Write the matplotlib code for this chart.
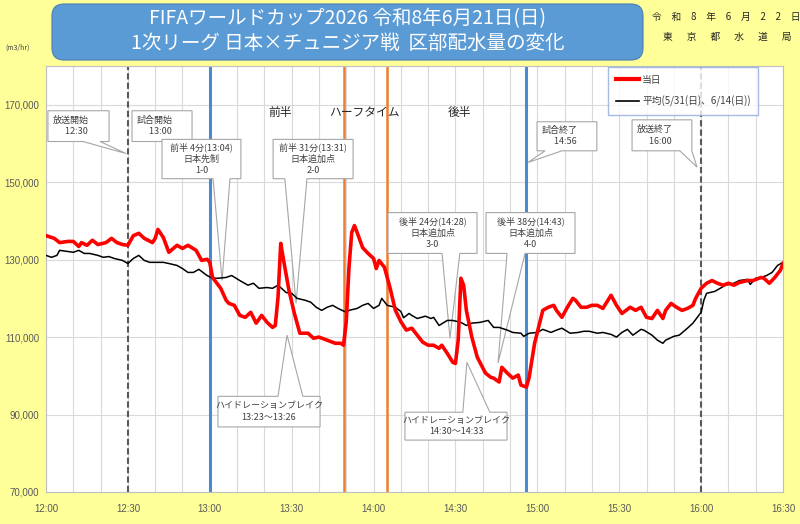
import matplotlib
matplotlib.use("Agg")
import matplotlib.pyplot as plt
from matplotlib.patches import FancyBboxPatch, Polygon
from matplotlib.lines import Line2D
import numpy as np

plt.rcParams['font.family'] = ['Noto Sans CJK JP', 'DejaVu Sans']

# ---------------- data ----------------
# minutes after 12:00
today_min = [0, 3, 5, 8, 10, 12, 13, 15, 17, 19, 22, 24, 26, 28, 30, 32, 34, 36, 39, 40,
             41, 43, 45, 47, 48, 50, 52, 55, 57, 59, 60, 61, 64, 66, 67, 69, 71, 73, 75, 77,
             79, 81, 83, 84, 85, 86, 87, 88, 89, 91, 93, 96, 98, 100, 103, 106, 108, 109, 110, 111,
             112, 113, 114, 116, 118, 120, 121, 122, 124, 126, 128, 130, 132, 134, 136, 138, 140, 142, 144, 145,
             147, 149, 150, 151, 152, 153, 154, 156, 158, 161, 163, 164, 166, 167, 169, 171, 173, 174, 176, 177,
             179, 182, 184, 186, 187, 189, 191, 193, 194, 196, 198, 200, 202, 204, 207, 209, 211, 214, 216, 218,
             220, 222, 224, 226, 227, 229, 231, 233, 235, 237, 238, 240, 242, 244, 246, 248, 250, 252, 254, 257,
             259, 262, 263, 265, 267, 269, 270]
today_val = [136200, 135500, 134400, 134700, 134700, 133400, 134400, 133700, 135000, 133900, 134400, 135500, 134400, 133900, 133700, 136200, 136800, 135500, 134400, 135500,
             137800, 135700, 131900, 133100, 133700, 132900, 133700, 132400, 129800, 130100, 129300, 125400, 122600, 119500, 118700, 118200, 115600, 115100, 116400, 113600,
             115600, 113800, 112500, 113000, 120300, 134200, 130000, 126000, 122100, 116100, 111000, 111000, 109700, 110000, 109200, 108400, 108400, 107900, 114000, 128000,
             137000, 138800, 137000, 133100, 131600, 130300, 127700, 129800, 128000, 122800, 116900, 114000, 111800, 112300, 110500, 108700, 107900, 107900, 107100, 107900,
             105800, 103500, 103200, 109200, 125200, 123400, 116900, 110000, 104800, 100700, 99600, 99400, 98400, 102200, 100700, 99400, 100200, 97600, 97100, 99600,
             108400, 116900, 117700, 118200, 116900, 115100, 117700, 120000, 119500, 117700, 117700, 118200, 118200, 117400, 120800, 118200, 116100, 117700, 116900, 117700,
             115100, 114800, 116900, 114800, 116900, 118700, 117700, 116900, 117400, 118200, 120000, 122600, 123900, 124600, 123900, 123400, 123900, 123400, 124100, 124600,
             124600, 125400, 125200, 123900, 125400, 127200, 129000]

avg_min = [0, 2, 4, 5, 8, 10, 12, 14, 16, 19, 21, 23, 25, 28, 30, 32, 34, 36, 38, 41,
           43, 45, 48, 50, 52, 54, 56, 59, 61, 63, 66, 68, 71, 74, 76, 78, 81, 83, 85, 88,
           90, 92, 95, 97, 99, 101, 103, 105, 107, 110, 111, 114, 116, 118, 120, 122, 123, 125, 128, 130,
           131, 133, 134, 136, 139, 141, 142, 144, 147, 149, 152, 154, 156, 159, 162, 164, 166, 169, 171, 174,
           175, 177, 180, 182, 185, 187, 189, 192, 195, 197, 199, 202, 204, 207, 209, 211, 213, 215, 218, 219,
           222, 224, 226, 227, 230, 232, 235, 237, 240, 241, 242, 245, 247, 249, 252, 254, 257, 258, 260, 262,
           264, 266, 268, 270]
avg_val = [131100, 130600, 131100, 132400, 132100, 131900, 132400, 131600, 131600, 131100, 130600, 130800, 130300, 129800, 129000, 130300, 131100, 129800, 129300, 129300,
           129300, 129000, 128500, 127700, 126700, 126700, 127500, 125900, 125200, 125200, 125400, 125900, 124600, 123400, 123900, 122600, 122800, 122600, 123400, 121500,
           121300, 120000, 119500, 119000, 117700, 116900, 117700, 118200, 117400, 116400, 116900, 117400, 118200, 118700, 117400, 118200, 120000, 118200, 117700, 116600,
           115000, 116100, 115600, 114800, 115400, 114800, 115100, 113000, 114300, 114300, 113800, 113000, 113600, 113800, 114300, 112500, 112500, 111800, 111200, 111000,
           110200, 111000, 111200, 112000, 111200, 111800, 112300, 111000, 111200, 111500, 111500, 111000, 111200, 110700, 110000, 111200, 112000, 110500, 112000, 111800,
           110500, 109200, 108400, 109200, 110200, 110500, 112300, 113600, 116400, 119500, 121300, 121800, 122600, 123400, 123900, 124600, 124900, 123600, 125200, 125400,
           125900, 126700, 128500, 129300]

series_labels = ['当日', '平均(5/31(日)、6/14(日))']
x_tick_min = [0, 30, 60, 90, 120, 150, 180, 210, 240, 270]
x_tick_labels = ['12:00', '12:30', '13:00', '13:30', '14:00', '14:30', '15:00', '15:30', '16:00', '16:30']
y_ticks = [70000, 90000, 110000, 130000, 150000, 170000]
broadcast_min = [30, 240]      # 放送開始 / 放送終了
match_min = [60, 176]          # 試合開始 / 試合終了
halftime_min = [109, 125]      # ハーフタイム

# ---------------- figure ----------------
W, H = 800, 524
fig = plt.figure(figsize=(W / 100, H / 100), dpi=100)
fig.patch.set_facecolor('#FFFF99')

ax = fig.add_axes([46 / W, 1 - 492 / H, (783 - 46) / W, (492 - 66) / H])
ax.set_facecolor('white')
ax.set_xlim(0, 270)
ax.set_ylim(70000, 180000)

ax.set_xticks(x_tick_min)
ax.set_xticklabels(x_tick_labels)
ax.set_xticks(np.arange(0, 271, 10), minor=True)
ax.set_yticks(y_ticks)
ax.set_yticklabels([f'{v:,}' for v in y_ticks])
ax.grid(True, which='both', axis='x', color='#D9D9D9', lw=0.8, zorder=0)
ax.grid(True, which='major', axis='y', color='#D9D9D9', lw=0.8, zorder=0)
ax.set_axisbelow(True)
ax.tick_params(axis='both', which='both', length=0, labelsize=7, labelcolor='#595959')
ax.tick_params(axis='x', pad=9)
ax.tick_params(axis='y', pad=5)
for lab in ax.get_xticklabels() + ax.get_yticklabels():
    lab.set_family(['Liberation Sans', 'DejaVu Sans'])
for s in ax.spines.values():
    s.set_color('#BFBFBF')
    s.set_linewidth(0.8)

# event lines
for t in broadcast_min:
    ax.axvline(t, color='#595959', lw=1.5, ls=(0, (3, 1.5)), zorder=2)
for t in match_min:
    ax.axvline(t, color='#4A8AD0', lw=2.2, zorder=2)
for t in halftime_min:
    ax.axvline(t, color='#ED7D31', lw=1.8, zorder=2)


def callout(box, base, tip, edge, text, tx, ty, ha='center', fs=6.5):
    x0, x1, y0, y1 = box
    b0, b1 = base
    if edge == 'bottom':
        verts = [(x0, y1), (x1, y1), (x1, y0), (b1, y0), tip, (b0, y0), (x0, y0)]
    else:
        verts = [(x0, y1), (b0, y1), tip, (b1, y1), (x1, y1), (x1, y0), (x0, y0)]
    ax.add_patch(Polygon(verts, closed=True, fc='white', ec='#A6A6A6', lw=0.8, zorder=3))
    ax.text(tx, ty, text, ha=ha, va='center', fontsize=fs, color='#404040',
            linespacing=1.35, multialignment=ha if ha != 'center' else 'center', zorder=6)


callout((0.7, 23.1, 160500, 168450), (13.6, 19.8), (29.3, 157400), 'bottom',
        '放送開始\n      12:30', 2.5, 164500, ha='left')
callout((31.5, 53.5, 160500, 168450), (49.1, 53.5), (59.4, 157400), 'bottom',
        '試合開始\n      13:00', 33.3, 164500, ha='left')
callout((42.5, 71.4, 150900, 161050), (61.2, 67.4), (64.5, 124600), 'bottom',
        '前半 4分(13:04)\n日本先制\n1-0', 57.0, 156000)
callout((83.2, 112.5, 150900, 161050), (87.5, 95.6), (91.6, 118700), 'bottom',
        '前半 31分(13:31)\n日本追加点\n2-0', 97.9, 156000)
callout((125.3, 157.9, 131600, 142150), (145.1, 151.6), (148.0, 109700), 'bottom',
        '後半 24分(14:28)\n日本追加点\n3-0', 141.6, 137000)
callout((161.2, 193.8, 131600, 142150), (168.9, 175.5), (165.6, 103300), 'bottom',
        '後半 38分(14:43)\n日本追加点\n4-0', 177.5, 137000)
callout((179.9, 201.8, 158100, 165600), (182.8, 189.0), (176.6, 155100), 'bottom',
        '試合終了\n      14:56', 181.7, 161900, ha='left')
callout((214.7, 236.6, 158100, 166100), (232.2, 236.6), (238.5, 153900), 'bottom',
        '放送終了\n      16:00', 216.5, 162100, ha='left')
callout((63.0, 100.4, 86800, 94700), (85.0, 94.1), (88.3, 110500), 'top',
        'ハイドレーションブレイク\n13:23～13:26', 81.7, 90750)
callout((131.5, 168.9, 83400, 90600), (152.7, 162.6), (154.2, 103500), 'top',
        'ハイドレーションブレイク\n14:30～14:33', 150.2, 87000)

# period labels
ax.text(85.7, 167900, '前半', ha='center', va='center', fontsize=8.5, color='#262626', zorder=6)
ax.text(116.8, 167900, 'ハーフタイム', ha='center', va='center', fontsize=8.5, color='#262626', zorder=6)
ax.text(151.6, 167900, '後半', ha='center', va='center', fontsize=8.5, color='#262626', zorder=6)

# data lines
ax.plot(avg_min, avg_val, color='black', lw=1.1, zorder=4, label=series_labels[1])
ax.plot(today_min, today_val, color='#FF0000', lw=2.6, zorder=4.5, label=series_labels[0])

# legend
handles = [Line2D([], [], color='#FF0000', lw=3), Line2D([], [], color='black', lw=1.2)]
leg = fig.legend(handles, series_labels, loc='upper left', bbox_to_anchor=(608 / W, 1 - 67 / H),
                 frameon=True, fancybox=False, fontsize=7, handlelength=2.4, labelspacing=1.1,
                 borderpad=0.8, handletextpad=0.3, borderaxespad=0)
leg.get_frame().set_edgecolor('#8FAADC')
leg.get_frame().set_linewidth(1.0)
for t in leg.get_texts():
    t.set_color('#404040')

# title box
r = 0.12
x0i, x1i = 0.52, 6.43
y0i, y1i = (H - 60) / 100, (H - 4) / 100
fig.patches.append(FancyBboxPatch((x0i + r, y0i + r), (x1i - x0i) - 2 * r, (y1i - y0i) - 2 * r,
                                  boxstyle=f'round,pad={r}', transform=fig.dpi_scale_trans,
                                  fc='#5B9BD5', ec='#4A7EB0', lw=0.8))
fig.text(347.5 / W, 1 - 31 / H,
         'FIFAワールドカップ2026 令和8年6月21日(日)\n1次リーグ 日本×チュニジア戦  区部配水量の変化',
         ha='center', va='center', fontsize=14, color='white', linespacing=1.2)

fig.text(726 / W, 1 - 17 / H, '令　和　8　年　6　月　2　2　日', ha='center', va='center',
         fontsize=7, color='#262626')
fig.text(727 / W, 1 - 37 / H, '東　  京　  都　  水　  道　  局', ha='center', va='center',
         fontsize=7, color='#262626')
fig.text(5 / W, 1 - 48 / H, '(m3/hr)', ha='left', va='center', fontsize=5, color='#404040')

fig.savefig('out.png', dpi=100)
